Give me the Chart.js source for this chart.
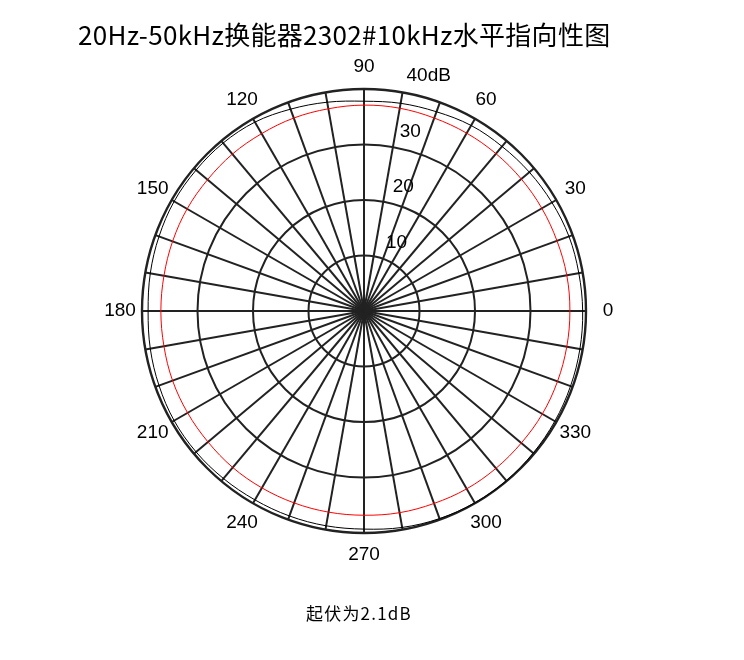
<!DOCTYPE html>
<html>
<head>
<meta charset="utf-8">
<script src="https://cdn.jsdelivr.net/npm/chart.js@4/dist/chart.umd.min.js"></script>
<style>
  body { margin: 0; background: #fff; }
  #wrap { position: relative; width: 744px; height: 660px; }
  #chart { position: absolute; left: 0; top: 0; }
  .title { position: absolute; left: 78px; top: 15px; font-family: "Noto Sans CJK SC", sans-serif; font-size: 26px; letter-spacing: 0.3px; color: #000; white-space: nowrap; }
  .note { position: absolute; left: 306px; top: 600px; font-family: "Noto Sans CJK SC", sans-serif; font-size: 17px; letter-spacing: 1.2px; color: #000; white-space: nowrap; }
</style>
</head>
<body>
<div id="wrap">
  <canvas id="chart" width="744" height="660"></canvas>
  <div class="title">20Hz-50kHz换能器2302#10kHz水平指向性图</div>
  <div class="note">起伏为2.1dB</div>
</div>
<script>
// angles in degrees, counter-clockwise from the right (0..350)
const angles = [0, 10, 20, 30, 40, 50, 60, 70, 80, 90, 100, 110, 120, 130, 140, 150, 160, 170,
                180, 190, 200, 210, 220, 230, 240, 250, 260, 270, 280, 290, 300, 310, 320, 330, 340, 350];

// black curve, dB
const blackLevels = [39.4, 39.3, 39.3, 39.1, 38.9, 38.7, 38.6, 38.2, 38.0, 37.8, 38.2, 38.7,
                     39.3, 39.5, 39.5, 39.5, 39.3, 39.1, 38.9, 39.1, 39.3, 39.5, 39.5, 39.4,
                     39.3, 39.3, 39.3, 39.3, 39.6, 39.8, 39.9, 39.9, 39.8, 39.7, 39.6, 39.5];

// red curve, dB
const redLevels = [37.1, 37.1, 37.0, 37.0, 37.0, 37.0, 37.0, 37.0, 37.1, 37.1, 37.0, 37.0,
                   36.9, 36.9, 36.8, 36.8, 36.7, 36.6, 36.6, 36.6, 36.7, 36.7, 36.7, 36.8,
                   36.8, 36.8, 36.8, 36.8, 36.9, 36.9, 37.0, 37.0, 37.0, 37.1, 37.1, 37.1];

const angleLabels = [0, 30, 60, 90, 120, 150, 180, 210, 240, 270, 300, 330];
const ringTicks = [10, 20, 30, 40];

// radar goes clockwise, so walk the angles backwards from 0
const order = angles.map((a, i) => (angles.length - i) % angles.length);
const labels = order.map(k => angles[k]);
const blackData = order.map(k => blackLevels[k]);
const redData = order.map(k => redLevels[k]);

const labelPlugin = {
    id: 'polarLabels',
    afterDraw(chart) {
        const s = chart.scales.r;
        const ctx = chart.ctx;
        ctx.save();
        ctx.fillStyle = '#000';
        ctx.font = '19px "Liberation Sans", Arial, sans-serif';
        ctx.textAlign = 'center';
        ctx.textBaseline = 'middle';
        labels.forEach((a, i) => {
            if (!angleLabels.includes(a)) return;
            const p = s.getPointPosition(i, s.drawingArea + 22);
            ctx.fillText(String(a), p.x, p.y);
        });
        ctx.textAlign = 'left';
        ringTicks.forEach(v => {
            const d = s.getDistanceFromCenterForValue(v);
            const txt = v === 40 ? '40dB' : String(v);
            ctx.fillText(txt, s.xCenter + 15 + 0.124 * d, s.yCenter - d - 13);
        });
        ctx.restore();
    }
};

new Chart(document.getElementById('chart'), {
    type: 'radar',
    data: {
        labels: labels,
        datasets: [
            { label: 'black', data: blackData, borderColor: '#000', borderWidth: 1, pointRadius: 0, fill: false, tension: 0.35 },
            { label: 'red', data: redData, borderColor: '#ff0000', borderWidth: 1, pointRadius: 0, fill: false, tension: 0.35 }
        ]
    },
    options: {
        responsive: false,
        animation: false,
        layout: { padding: { left: 142, right: 158, top: 89, bottom: 127 } },
        plugins: { legend: { display: false }, tooltip: { enabled: false } },
        scales: {
            r: {
                min: 0,
                max: 40,
                startAngle: 90,
                ticks: { stepSize: 10, display: false },
                pointLabels: { display: false },
                grid: {
                    circular: true,
                    color: '#222',
                    lineWidth: ctx => ctx.index === 4 ? 2.4 : 2
                },
                angleLines: { color: '#222', lineWidth: 2 }
            }
        }
    },
    plugins: [labelPlugin]
});
</script>
</body>
</html>
